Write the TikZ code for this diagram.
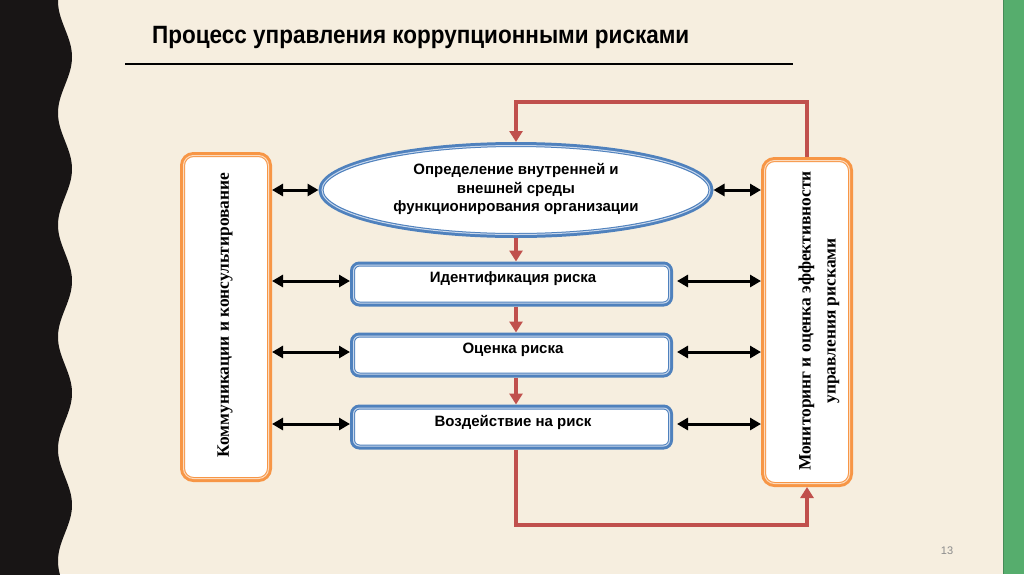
\documentclass[tikz,border=0pt]{standalone}
\usepackage{fontspec}
\setmainfont{Liberation Sans}
\newfontfamily\arialf{Liberation Sans}
\newfontfamily\timesf{Liberation Serif}
\usetikzlibrary{arrows.meta,shapes.geometric}
\definecolor{bg}{HTML}{F6EEDF}
\definecolor{blk}{HTML}{181515}
\definecolor{grn}{HTML}{56AD6D}
\definecolor{cred}{HTML}{C0504D}
\definecolor{cblue}{HTML}{4F81BD}
\definecolor{lblue}{HTML}{C9D8EC}
\definecolor{corange}{HTML}{F79646}
\definecolor{lorange}{HTML}{FCDCC0}
\begin{document}
\begin{tikzpicture}[x=1pt,y=-1pt,
  stepbox/.style={draw=cblue, line width=5pt, fill=white, rounded corners=7pt,
    minimum width=318pt, minimum height=40pt, inner sep=0pt},
  sidebox/.style={draw=corange, line width=5pt, fill=white, rounded corners=11pt,
    minimum width=87pt, minimum height=325pt, inner sep=0pt},
  envell/.style={ellipse, draw=cblue, line width=5pt, fill=white,
    minimum width=390pt, minimum height=91pt, inner sep=0pt},
  bluein/.style={draw=lblue, line width=1pt, rounded corners=6pt},
  orangein/.style={draw=lorange, line width=1pt, rounded corners=10pt},
  boxtext/.style={font=\arialf\bfseries\fontsize{15}{18.5}\selectfont, align=center, inner sep=0pt},
  sidetext/.style={font=\timesf\bfseries\fontsize{17.4}{25}\selectfont, align=center, rotate=90, inner sep=0pt},
  redarrow/.style={draw=cred, line width=4pt, -{Triangle[length=11pt,width=13pt]}},
  blkarrow/.style={draw=black, line width=3pt, {Triangle[length=11pt,width=12pt]}-{Triangle[length=11pt,width=12pt]}}
]
\useasboundingbox (0,0) rectangle (1024,574);
% background
\fill[bg] (0,0) rectangle (1024,574);
\fill[blk] (0,-1) -- plot[domain=-1:575, samples=300, variable=\t] ({65+7*cos(3.2143*(\t-57))}, \t) -- (0,575) -- cycle;
\fill[grn] (1003,0) rectangle (1024,574);
\draw[grn!80!black, line width=0.8pt] (1003.4,0) -- (1003.4,574);

% title
\node[anchor=base west, inner sep=0pt, font=\arialf\bfseries\fontsize{25}{28}\selectfont] (title) at (152,43)
  {\scalebox{0.9}[1]{Процесс управления коррупционными рисками}};
\draw[line width=2pt] (125,64) -- (793,64);

% side boxes
\node[sidebox] (L) at (226,317) {};
\draw[orangein] ([shift={(3.5,3.5)}]L.north west) rectangle ([shift={(-3.5,-3.5)}]L.south east);
\node[sidetext] (Lt) at (225,315) {Коммуникации и консультирование};
\node[sidebox] (R) at (807,322) {};
\draw[orangein] ([shift={(3.5,3.5)}]R.north west) rectangle ([shift={(-3.5,-3.5)}]R.south east);
\node[sidetext] (Rt) at (819,321) {Мониторинг и оценка эффективности\\управления рисками};

% central chain
\node[envell] (E) at (516,190) {};
\draw[draw=lblue, line width=1pt] (E.center) ellipse [x radius=194, y radius=44.5];
\node[boxtext] (Et) at (516,189) {Определение внутренней и\\внешней среды\\функционирования организации};
\node[stepbox] (B1) at (511.5,284) {};
\node[boxtext] (B1t) at (513,279) {Идентификация риска};
\node[stepbox] (B2) at (511.5,355) {};
\node[boxtext] (B2t) at (513,350) {Оценка риска};
\node[stepbox] (B3) at (511.5,427) {};
\node[boxtext] (B3t) at (513,422) {Воздействие на риск};
\foreach \b in {B1,B2,B3}{
  \draw[bluein] ([shift={(3.5,3.5)}]\b.north west) rectangle ([shift={(-3.5,-3.5)}]\b.south east);
}

% red flow
\draw[redarrow] (E.south -| 516,0) -- (B1.north -| 516,0);
\draw[redarrow] (B1.south -| 516,0) -- (B2.north -| 516,0);
\draw[redarrow] (B2.south -| 516,0) -- (B3.north -| 516,0);
\draw[redarrow] (R.north) -- ++(0,-55) -| (E.north -| 516,0);
\draw[redarrow] (B3.south -| 516,0) -- ++(0,75) -| (R.south);

% black double arrows
\draw[blkarrow] (L.east |- E.west) -- (E.west);
\draw[blkarrow] (E.east) -- (R.west |- E.east);
\foreach \b in {B1,B2,B3}{
  \draw[blkarrow] ([yshift=3pt]L.east |- \b.west) -- ([yshift=3pt]\b.west);
  \draw[blkarrow] ([yshift=3pt,xshift=4pt]\b.east) -- ([yshift=3pt]R.west |- \b.east);
}

% page number
\node[font=\arialf\fontsize{11}{13}\selectfont, text=black!45, inner sep=0pt] (pg) at (947,551) {13};
\end{tikzpicture}
\end{document}
